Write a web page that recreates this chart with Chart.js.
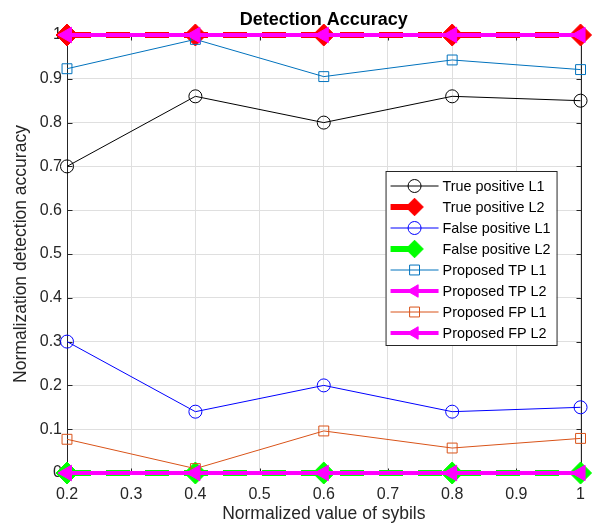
<!DOCTYPE html>
<html>
<head>
<meta charset="utf-8">
<script src="https://cdn.jsdelivr.net/npm/chart.js@4.4.0/dist/chart.umd.min.js"></script>
<style>
  html, body { margin: 0; padding: 0; background: #fff; }
  canvas { display: block; }
</style>
</head>
<body>
<canvas id="myChart" width="597" height="526"></canvas>
<script>
// values
const sybils = [0.2, 0.4, 0.6, 0.8, 1];
const truePosL1 = [0.70, 0.86, 0.80, 0.86, 0.85];
const truePosL2 = [1, 1, 1, 1, 1];
const falsePosL1 = [0.30, 0.14, 0.20, 0.14, 0.15];
const falsePosL2 = [0, 0, 0, 0, 0];
const propTpL1 = [0.923, 0.99, 0.905, 0.943, 0.921];
const propTpL2 = [1, 1, 1, 1, 1];
const propFpL1 = [0.077, 0.01, 0.096, 0.057, 0.079];
const propFpL2 = [0, 0, 0, 0, 0];
const seriesNames = ['True positive L1', 'True positive L2', 'False positive L1', 'False positive L2',
  'Proposed TP L1', 'Proposed TP L2', 'Proposed FP L1', 'Proposed FP L2'];
const xTicks = [0.2, 0.3, 0.4, 0.5, 0.6, 0.7, 0.8, 0.9, 1];
const yTicks = [0, 0.1, 0.2, 0.3, 0.4, 0.5, 0.6, 0.7, 0.8, 0.9, 1];

const FONT = "'Liberation Sans', Arial, Helvetica, sans-serif";
const AXIS = '#262626';

function thin(color, marker, radius) {
  return {
    borderColor: color, borderWidth: 1,
    pointStyle: marker, pointRadius: radius, pointBorderWidth: 1,
    pointBorderColor: color, pointBackgroundColor: 'rgba(0,0,0,0)'
  };
}
function dashedThick(color) {
  return {
    borderColor: color, borderWidth: 6, borderDash: [24, 15],
    pointStyle: 'rectRot', pointRadius: 11, pointBorderWidth: 1,
    pointBorderColor: color, pointBackgroundColor: color
  };
}
function magentaLeft() {
  return {
    borderColor: '#ff00ff', borderWidth: 4,
    pointStyle: 'triangle', pointRotation: -90, pointRadius: 9, pointBorderWidth: 1,
    pointBorderColor: '#ff00ff', pointBackgroundColor: '#ff00ff'
  };
}

const allSeries = [truePosL1, truePosL2, falsePosL1, falsePosL2, propTpL1, propTpL2, propFpL1, propFpL2];
const styles = [
  thin('#000000', 'circle', 6.5),
  dashedThick('#ff0000'),
  thin('#0000ff', 'circle', 6.5),
  dashedThick('#00ff00'),
  thin('#0072bd', 'rect', 7),
  magentaLeft(),
  thin('#d95319', 'rect', 7),
  magentaLeft()
];

const datasets = allSeries.map((ys, i) => Object.assign({
  label: seriesNames[i],
  data: sybils.map((x, k) => ({ x: x, y: ys[k] })),
  fill: false,
  tension: 0,
  clip: false,
  order: allSeries.length - i   // later series drawn on top, like MATLAB
}, styles[i]));

// box on + inward ticks, drawn under the data
const frame = {
  id: 'frame',
  beforeDatasetsDraw(chart) {
    const { ctx, chartArea: a, scales } = chart;
    const L = Math.round(a.left) + 0.5, R = Math.round(a.right) + 0.5;
    const T = Math.round(a.top) + 0.5, B = Math.round(a.bottom) + 0.5;
    ctx.save();
    ctx.strokeStyle = AXIS;
    ctx.lineWidth = 1;
    ctx.beginPath();
    ctx.moveTo(L, T); ctx.lineTo(R, T); ctx.lineTo(R, B); ctx.lineTo(L, B); ctx.closePath();
    xTicks.forEach(v => {
      const px = Math.round(scales.x.getPixelForValue(v)) + 0.5;
      ctx.moveTo(px, B); ctx.lineTo(px, B - 5);
      ctx.moveTo(px, T); ctx.lineTo(px, T + 5);
    });
    yTicks.forEach(v => {
      const py = Math.round(scales.y.getPixelForValue(v)) + 0.5;
      ctx.moveTo(L, py); ctx.lineTo(L + 5, py);
      ctx.moveTo(R, py); ctx.lineTo(R - 5, py);
    });
    ctx.stroke();
    ctx.restore();
  },
  afterDraw(chart) {
    const { ctx, chartArea: a } = chart;
    // title
    ctx.save();
    ctx.fillStyle = '#000';
    ctx.font = 'bold 18px ' + FONT;
    ctx.textAlign = 'center';
    ctx.textBaseline = 'middle';
    ctx.fillText('Detection Accuracy', (a.left + a.right) / 2, 20);

    // legend box inside the axes
    const bx = a.right - 195, by = 171, bw = 171, bh = 174;
    ctx.fillStyle = '#fff';
    ctx.fillRect(bx, by, bw, bh);
    ctx.strokeStyle = AXIS;
    ctx.lineWidth = 1;
    ctx.strokeRect(bx + 0.5, by + 0.5, bw, bh);
    ctx.font = '14.4px ' + FONT;
    ctx.textAlign = 'left';
    chart.data.datasets.forEach((ds, i) => {
      const y = by + 15 + i * 21;
      ctx.save();
      ctx.strokeStyle = ds.borderColor;
      ctx.lineWidth = ds.borderWidth;
      ctx.beginPath();
      ctx.moveTo(bx + 5, y);
      // a dashed sample only shows its first dash, up to the marker
      ctx.lineTo(ds.borderDash ? bx + 29 : bx + 53, y);
      ctx.stroke();
      ctx.fillStyle = ds.pointBackgroundColor;
      ctx.strokeStyle = ds.pointBorderColor;
      ctx.lineWidth = ds.pointBorderWidth;
      const r = ds.pointRadius > 8 ? ds.pointRadius * 0.8 : ds.pointRadius;
      Chart.helpers.drawPoint(ctx, {
        pointStyle: ds.pointStyle, radius: r,
        rotation: ds.pointRotation || 0, borderWidth: ds.pointBorderWidth
      }, bx + 29, y);
      ctx.restore();
      ctx.fillStyle = '#000';
      ctx.fillText(ds.label, bx + 57, y + 1);
    });
    ctx.restore();
  }
};

new Chart(document.getElementById('myChart'), {
  type: 'line',
  data: { datasets: datasets },
  plugins: [frame],
  options: {
    responsive: false,
    animation: false,
    events: [],
    devicePixelRatio: 1,
    layout: { padding: { top: 35, right: 6, left: 0, bottom: 0 } },
    plugins: { legend: { display: false }, tooltip: { enabled: false }, title: { display: false } },
    scales: {
      x: {
        type: 'linear', min: 0.2, max: 1,
        afterBuildTicks: s => { s.ticks = xTicks.map(v => ({ value: v })); },
        afterFit: s => { s.height = 53; },
        grid: { color: '#dfdfdf', drawTicks: false },
        border: { color: AXIS },
        ticks: { color: AXIS, font: { family: FONT, size: 16 }, padding: 12, maxRotation: 0, autoSkip: false,
          callback: v => String(v) },
        title: { display: true, text: 'Normalized value of sybils', color: AXIS,
          font: { family: FONT, size: 17.5 }, padding: { top: 0, bottom: 1 } }
      },
      y: {
        type: 'linear', min: 0, max: 1,
        afterBuildTicks: s => { s.ticks = yTicks.map(v => ({ value: v })); },
        afterFit: s => { s.width = 67; },
        grid: { color: '#dfdfdf', drawTicks: false },
        border: { color: AXIS },
        ticks: { color: AXIS, font: { family: FONT, size: 16 }, padding: 5, autoSkip: false,
          callback: v => String(v) },
        title: { display: true, text: 'Normalization detection accuracy', color: AXIS,
          font: { family: FONT, size: 17.5 }, padding: { top: 11, bottom: 0 } }
      }
    }
  }
});
</script>
</body>
</html>
